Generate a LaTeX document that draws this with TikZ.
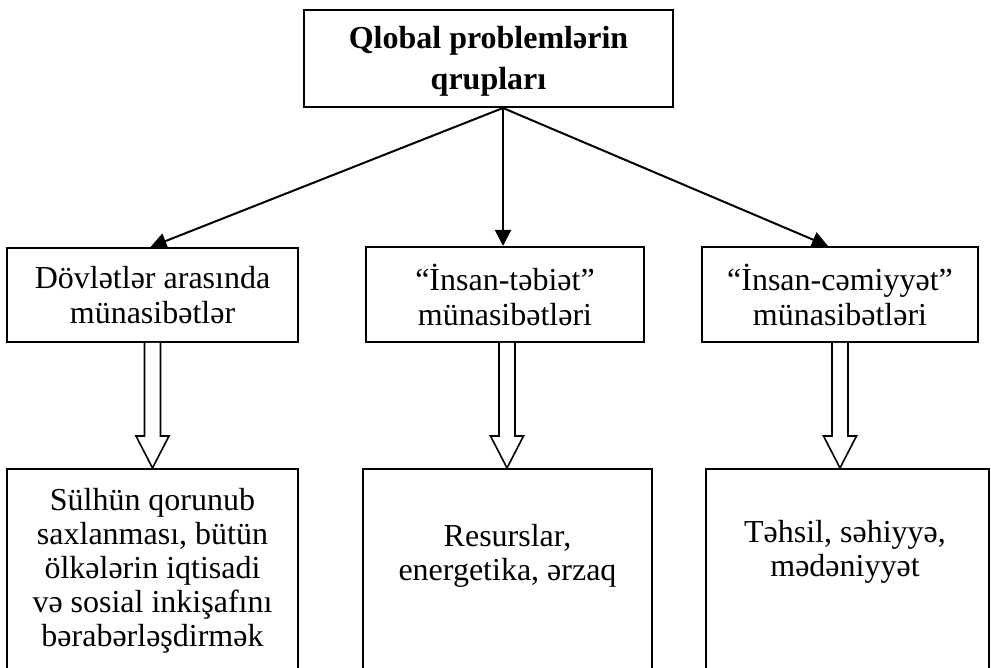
\documentclass[tikz,border=0pt]{standalone}
\usepackage{fontspec}
\setmainfont{Liberation Serif}
\usetikzlibrary{arrows.meta,calc}
\tikzset{
  box/.style={draw, line width=2pt, rectangle, align=center, inner sep=0pt,
    font=\fontsize{32}{35}\selectfont},
  txt/.style={align=center, inner sep=0pt, font=\fontsize{32}{34}\selectfont},
  conn/.style={line width=2pt, -{Triangle[length=16pt,width=16pt]}},
  hollow/.style={draw, line width=1.6pt, fill=white, line join=miter}
}
\begin{document}
\begin{tikzpicture}[x=1pt,y=-1pt]
\useasboundingbox (0,0) rectangle (991,668);
% top
\node[box, minimum width=369pt, minimum height=97pt] (top) at (488.5,58.5) {};
\node[txt, anchor=north, font=\bfseries\fontsize{32}{41}\selectfont] (topt) at (488.5,26)
  {Qlobal problemlərin\\qrupları};
% middle row
\node[box, minimum width=291pt, minimum height=94pt] (l) at (152.5,295)
  {Dövlətlər arasında\\münasibətlər};
\node[box, minimum width=278pt, minimum height=95pt] (m) at (505,294.5)
  {“İnsan-təbiət”\\münasibətləri};
\node[box, minimum width=276pt, minimum height=95pt] (r) at (840,294.5)
  {“İnsan-cəmiyyət”\\münasibətləri};
% bottom row
\node[box, minimum width=291pt, minimum height=231pt] (lb) at (152.5,584.5) {};
\node[box, minimum width=289pt, minimum height=231pt] (mb) at (507.5,584.5) {};
\node[box, minimum width=283pt, minimum height=231pt] (rb) at (847.5,584.5) {};
\node[txt, anchor=north] (lbt) at (152.5,488)
  {Sülhün qorunub\\saxlanması, bütün\\ölkələrin iqtisadi\\və sosial inkişafını\\bərabərləşdirmək};
\node[txt, anchor=north] (mbt) at (507.5,524) {Resurslar,\\energetika, ərzaq};
\node[txt, anchor=north] (rbt) at (845,520) {Təhsil, səhiyyə,\\mədəniyyət};
% connectors from top
\coordinate (o) at ([xshift=14.5pt]top.south);
\draw[conn] (o) -- ([xshift=-2pt]l.north);
\draw[conn] (o) -- (o |- m.north);
\draw[conn] (o) -- ([xshift=-12pt]r.north);
% hollow arrows
\coordinate (s1) at (l.south);
\coordinate (t1) at (l.south |- lb.north);
\coordinate (s2) at ([xshift=2pt]m.south);
\coordinate (t2) at (s2 |- mb.north);
\coordinate (s3) at (r.south);
\coordinate (t3) at (r.south |- rb.north);
\foreach \s/\t in {s1/t1,s2/t2,s3/t3}{
  \draw[hollow] ([xshift=-8pt]\s) -- ([xshift=-8pt,yshift=32pt]\t)
    -- ([xshift=-16.5pt,yshift=32pt]\t) -- (\t)
    -- ([xshift=16.5pt,yshift=32pt]\t) -- ([xshift=8pt,yshift=32pt]\t)
    -- ([xshift=8pt]\s);
}
\end{tikzpicture}
\end{document}
